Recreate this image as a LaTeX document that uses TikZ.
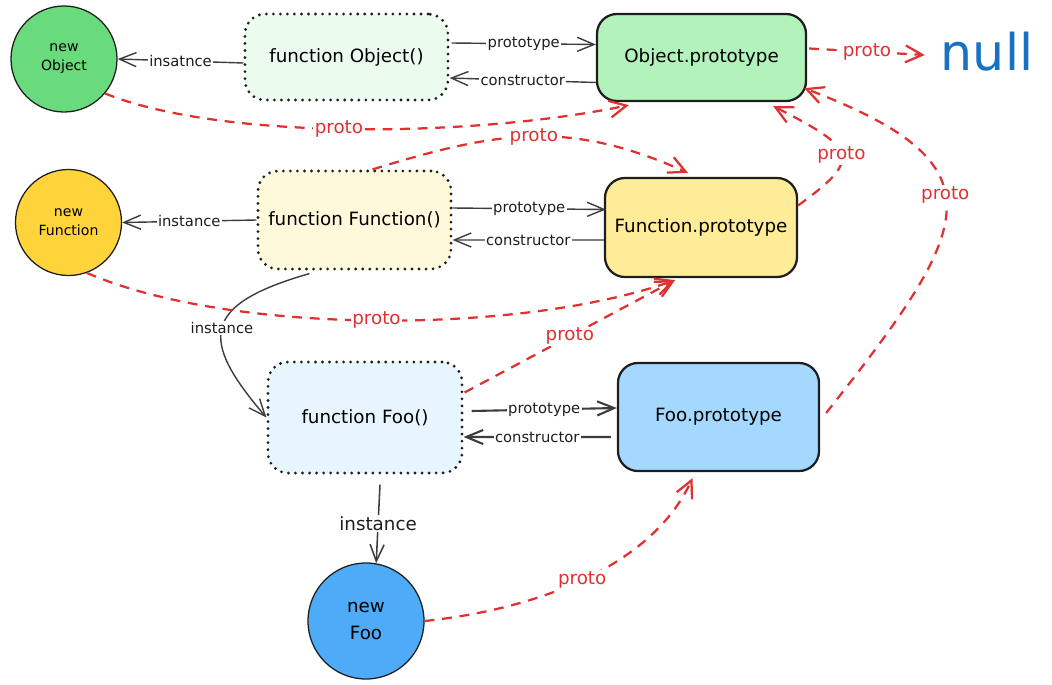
\documentclass[tikz,border=0pt]{standalone}
\usepackage{fontspec}
\setmainfont{DejaVu Sans}
\usetikzlibrary{arrows.meta,calc}

\definecolor{inkgray}{HTML}{1E1E1E}
\definecolor{linkgray}{HTML}{3D3D3D}
\definecolor{protored}{HTML}{E03131}
\definecolor{nullblue}{HTML}{1971C2}
\definecolor{objnew}{HTML}{69DB7C}
\definecolor{objfn}{HTML}{EBFBEE}
\definecolor{objproto}{HTML}{B2F2BB}
\definecolor{fnnew}{HTML}{FFD43B}
\definecolor{fnfn}{HTML}{FFF9DB}
\definecolor{fnproto}{HTML}{FFEC99}
\definecolor{foonew}{HTML}{4DABF7}
\definecolor{foofn}{HTML}{E7F5FF}
\definecolor{fooproto}{HTML}{A5D8FF}

\tikzset{
  fnbox/.style={rectangle, rounded corners=0.5cm, draw=inkgray, line width=2.2pt,
    dash pattern=on 0pt off 5pt, line cap=round, font=\fontsize{13}{15}\selectfont},
  protobox/.style={rectangle, rounded corners=0.5cm, draw=inkgray, line width=1.6pt,
    font=\fontsize{13}{15}\selectfont},
  objcircle/.style={circle, draw=inkgray, line width=0.9pt, inner sep=0pt, align=center,
    font=\fontsize{10}{13.5}\selectfont},
  link/.style={draw=linkgray, line width=1pt, -{Straight Barb[length=12pt,width=10pt]}},
  protolink/.style={draw=protored, line width=1.6pt, dash pattern=on 7pt off 5.5pt,
    -{Straight Barb[length=12pt,width=12pt]}},
  lbl/.style={fill=white, inner sep=1pt, text=inkgray, font=\fontsize{10.5}{12}\selectfont},
  protolbl/.style={lbl, text=protored, font=\fontsize{13}{15}\selectfont},
}

\begin{document}
\begin{tikzpicture}[x=0.025cm, y=-0.025cm]
  \useasboundingbox (0,0) rectangle (1052,684);

  % Object
  \node[objcircle, fill=objnew, minimum size=2.65cm] (newObj) at (64,59) {new\\Object};
  \node[fnbox, fill=objfn, minimum width=5.075cm, minimum height=2.15cm] (funcObj) at (346.5,57) {function Object()};
  \node[protobox, fill=objproto, minimum width=5.225cm, minimum height=2.175cm] (objProto) at (701.5,57.5) {Object.prototype};
  \node[text=nullblue, inner sep=2pt, font=\fontsize{36}{40}\selectfont] (null) at (987,52) {null};

  % Function
  \node[objcircle, fill=fnnew, minimum size=2.65cm] (newFunc) at (68.5,222.5) {new\\Function};
  \node[fnbox, fill=fnfn, minimum width=4.825cm, minimum height=2.45cm] (funcFunc) at (354.5,220) {function Function()};
  \node[protobox, fill=fnproto, minimum width=4.8cm, minimum height=2.475cm] (funcProto) at (701,227.5) {Function.prototype};

  % Foo
  \node[fnbox, fill=foofn, minimum width=4.85cm, minimum height=2.775cm] (funcFoo) at (365,417.5) {function Foo()};
  \node[protobox, fill=fooproto, minimum width=5.025cm, minimum height=2.7cm] (fooProto) at (718.5,417) {Foo.prototype};
  \node[objcircle, fill=foonew, minimum size=2.9cm, font=\fontsize{13}{19}\selectfont] (newFoo) at (366,621) {new\\Foo};

  % instance
  \draw[link] ($(funcObj.west)+(0,6)$) -- node[lbl] {insatnce} (newObj.east);
  \draw[link] (funcFunc.west) -- node[lbl] {instance} (newFunc.east);
  \draw[link] ($(funcFunc.south)+(-45,3)$) .. controls (200,305) and (200,340) .. node[lbl] {instance} (funcFoo.west);
  \draw[link, line width=1.1pt] ($(funcFoo.south)+(15,10)$) -- node[lbl, font=\fontsize{13}{15}\selectfont] {instance} (newFoo.80);

  % prototype / constructor
  \draw[link] ($(funcObj.east)+(2,-14)$) -- node[lbl] {prototype} ($(objProto.west)+(0,-13)$);
  \draw[link] ($(objProto.west)+(0,25)$) -- node[lbl] {constructor} ($(funcObj.east)+(0,21)$);
  \draw[link] ($(funcFunc.east)+(0,-12)$) -- node[lbl] {prototype} ($(funcProto.west)+(2,-18)$);
  \draw[link] ($(funcProto.west)+(0,12.5)$) -- node[lbl] {constructor} ($(funcFunc.east)+(0,20)$);
  \draw[link, line width=1.5pt] ($(funcFoo.east)+(8,-6.5)$) -- node[lbl] {prototype} ($(fooProto.west)+(0,-9)$);
  \draw[link, line width=1.5pt] ($(fooProto.west)+(-6,20)$) -- node[lbl] {constructor} ($(funcFoo.east)+(0,19.5)$);

  % proto
  \draw[protolink] ($(objProto.east)+(2,-9)$) -- node[protolbl] {proto} ($(null.west)+(-13,3)$);
  \draw[protolink] (newObj.-40) .. controls (220,140) and (470,138) .. node[protolbl, pos=0.48] {proto} ($(objProto.south west)+(33,3)$);
  \draw[protolink] ($(funcFunc.north)+(18,0)$) .. controls (500,130) and (570,120) .. node[protolbl] {proto} ($(funcProto.north)+(-13,-4)$);
  \draw[protolink] ($(funcProto.east)+(0,-22)$) .. controls (860,160) and (860,150) .. node[protolbl] {proto} ($(objProto.south east)+(-34,4)$);
  \draw[protolink] ($(fooProto.east)+(6,-4)$) .. controls (975,225) and (1005,165) .. node[protolbl, pos=0.55] {proto} ($(objProto.south east)+(-3,-14)$);
  \draw[protolink] (newFunc.-70) .. controls (230,335) and (520,335) .. node[protolbl] {proto} ($(funcProto.south)+(-26,2)$);
  \draw[protolink] ($(funcFoo.east)+(1,-25)$) -- node[protolbl] {proto} ($(funcProto.south)+(-26,2)$);
  \draw[protolink] (newFoo.east) .. controls (530,610) and (650,570) .. node[protolbl] {proto} ($(fooProto.south)+(-26,6)$);
\end{tikzpicture}
\end{document}
